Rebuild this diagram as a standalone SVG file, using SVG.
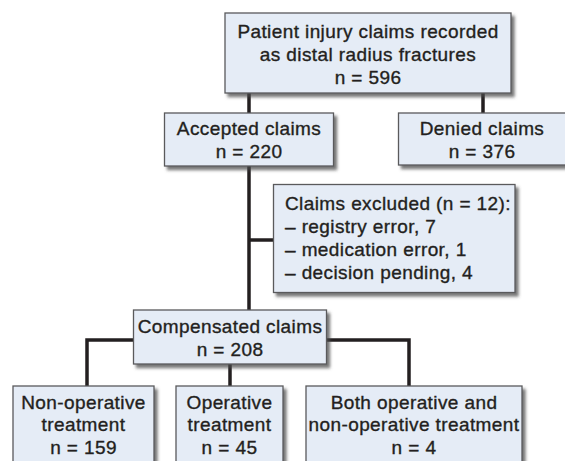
<svg xmlns="http://www.w3.org/2000/svg" width="565" height="461" viewBox="0 0 565 461">
<defs>
<filter id="sh" x="-10%" y="-10%" width="130%" height="140%">
<feDropShadow dx="3" dy="3.5" stdDeviation="1.6" flood-color="#4a4a4a" flood-opacity="0.75"/>
</filter>
<style>
.box{fill:#e5ecf6;stroke:#5a5a5c;stroke-width:1.3;filter:url(#sh)}
.t{font-family:"Liberation Sans",Arial,sans-serif;font-size:19px;letter-spacing:0.4px;fill:#231f20;stroke:#231f20;stroke-width:0.35;text-anchor:middle}
.l{text-anchor:start}
.c{fill:none;stroke:#231f20;stroke-width:3.5}
</style>
</defs>
<rect width="565" height="461" fill="#ffffff"/>
<g id="connectors">
<path class="c" d="M249 93V113"/>
<path class="c" d="M483 93V113"/>
<path class="c" d="M249 166V310"/>
<path class="c" d="M249 240H273"/>
<path class="c" d="M133 340H87V386"/>
<path class="c" d="M327 340H409V386"/>
<path class="c" d="M230 364V386"/>
</g>
<g id="n-root">
<rect class="box" x="225" y="13" width="286" height="80"/>
<text class="t" x="368" y="38">Patient injury claims recorded</text>
<text class="t" x="368" y="61">as distal radius fractures</text>
<text class="t" x="368" y="83.5">n = 596</text>
</g>
<g id="n-accepted">
<rect class="box" x="164.5" y="113" width="169" height="53"/>
<text class="t" x="249" y="135">Accepted claims</text>
<text class="t" x="249" y="157.5">n = 220</text>
</g>
<g id="n-denied">
<rect class="box" x="398.5" y="113" width="170" height="52"/>
<text class="t" x="482" y="135">Denied claims</text>
<text class="t" x="482" y="157.5">n = 376</text>
</g>
<g id="n-excluded">
<rect class="box" x="273.5" y="184.5" width="241.5" height="108"/>
<text class="t l" x="285" y="210">Claims excluded (n = 12):</text>
<text class="t l" x="285" y="232.5">– registry error, 7</text>
<text class="t l" x="285" y="255.5">– medication error, 1</text>
<text class="t l" x="285" y="278.5">– decision pending, 4</text>
</g>
<g id="n-compensated">
<rect class="box" x="133.5" y="310" width="193" height="54"/>
<text class="t" x="230" y="332.5">Compensated claims</text>
<text class="t" x="230" y="356">n = 208</text>
</g>
<g id="n-nonop">
<rect class="box" x="13" y="386" width="141" height="90"/>
<text class="t" x="83.5" y="408.5">Non-operative</text>
<text class="t" x="83.5" y="431">treatment</text>
<text class="t" x="83.5" y="454">n = 159</text>
</g>
<g id="n-op">
<rect class="box" x="176" y="386" width="107" height="90"/>
<text class="t" x="229.5" y="408.5">Operative</text>
<text class="t" x="229.5" y="431">treatment</text>
<text class="t" x="229.5" y="454">n = 45</text>
</g>
<g id="n-both">
<rect class="box" x="306" y="386" width="216" height="90"/>
<text class="t" x="414" y="408.5">Both operative and</text>
<text class="t" x="414" y="431">non-operative treatment</text>
<text class="t" x="414" y="454">n = 4</text>
</g>
</svg>
